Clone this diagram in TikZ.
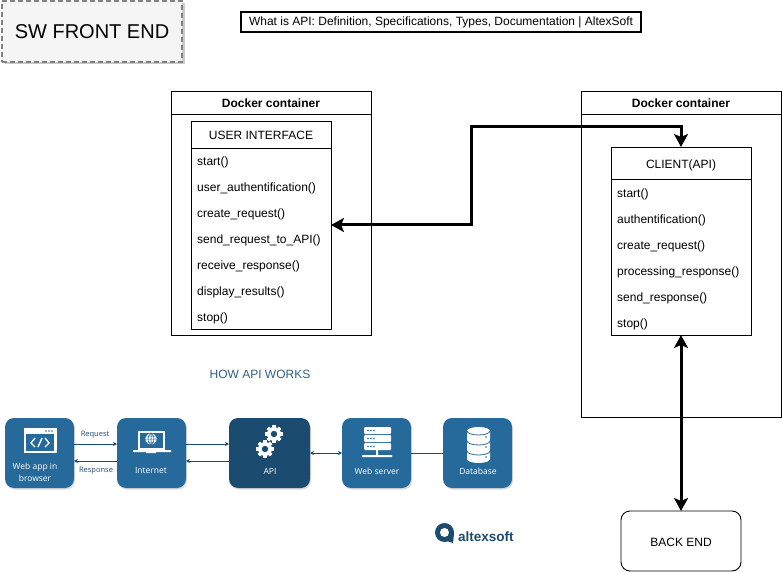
\documentclass[tikz,border=0pt]{standalone}
\usepackage{fontspec}
\setmainfont{Liberation Sans}
\newfontfamily\tilefont{Open Sans}
\usepackage{tikz}
\usetikzlibrary{arrows.meta,positioning,shadows}
\definecolor{tileblue}{HTML}{266A9B}
\definecolor{tiledark}{HTML}{1B4B6F}
\definecolor{linkblue}{HTML}{1C4A6E}
\definecolor{howblue}{HTML}{2F5F85}
\tikzset{
 box/.style={draw=black,line width=0.9pt,fill=white,outer sep=0pt,inner sep=0pt,text height=10.6pt,text depth=0pt},
 headbox/.style={box,font=\fontsize{12}{14}\selectfont},
 rowtext/.style={anchor=west,inner sep=0pt,yshift=-1pt,font=\fontsize{12}{14}\selectfont},
 tile/.style={fill=#1,rounded corners=9pt,minimum height=70pt,outer sep=0pt,inner sep=0pt,
  drop shadow={shadow xshift=1pt,shadow yshift=-1.5pt,opacity=0.3}},
 tilelabel/.style={text=white,align=center,inner sep=0pt,font=\tilefont\fontsize{8.5}{12}\selectfont},
 biglink/.style={line width=3pt,{Stealth[length=13pt,width=14pt,inset=3pt]}-{Stealth[length=13pt,width=14pt,inset=3pt]}},
 smalllink/.style={draw=linkblue,line width=0.8pt},
 smalltip/.style={-{Stealth[length=4pt,width=4pt]}},
 smalltext/.style={text=linkblue,inner sep=0pt,font=\tilefont\fontsize{7.5}{9}\selectfont},
 gearicon/.pic={
  \foreach \a in {0,45,...,315}{\fill[white,rotate=\a] (-1.7,-8.6) rectangle (1.7,8.6);}
  \fill[white] (0,0) circle (7pt);
  \fill[tiledark] (0,0) circle (3.2pt);
 }
}

\begin{document}
\begin{tikzpicture}[x=1pt,y=-1pt]
 \useasboundingbox (0,0) rectangle (782,572);

 \node[draw=black!50,dash pattern=on 5pt off 3pt,line width=1.5pt,fill=black!4,minimum width=180pt,minimum height=61pt,
   outer sep=0pt,inner sep=0pt,font=\fontsize{20}{24}\selectfont,
   drop shadow={shadow xshift=2.5pt,shadow yshift=-2.5pt,opacity=0.4}] (swfront) at (92,31.5) {SW FRONT END};
 \node[draw=black,line width=2pt,minimum width=400pt,minimum height=20pt,outer sep=0pt,inner sep=0pt,
   font=\fontsize{12}{14}\selectfont] (apilink) at (441,22)
   {What is API: Definition, Specifications, Types, Documentation | AltexSoft};

 % left container
 \node[box,minimum width=200pt,minimum height=244pt] (dockerleft) at (271,213) {};
 \node[box,minimum width=200pt,minimum height=23pt,below=0pt of dockerleft.north,
   font=\bfseries\fontsize{12}{14}\selectfont] (dockerlefthead) {Docker container};
 \node[box,minimum width=140pt,minimum height=208pt] (ui) at (261,225) {};
 \node[headbox,minimum width=140pt,minimum height=27pt,below=0pt of ui.north] (uihead) {USER INTERFACE};
 \foreach \y/\t [count=\n] in {161/start(),187/user\_authentification(),213/create\_request(),
   239/send\_request\_to\_API(),265/receive\_response(),291/display\_results(),317/stop()}
  {\node[rowtext] (uirow\n) at (197,\y) {\t};}

 % right container
 \node[box,minimum width=200pt,minimum height=326pt] (dockerright) at (681,254) {};
 \node[box,minimum width=200pt,minimum height=23pt,below=0pt of dockerright.north,
   font=\bfseries\fontsize{12}{14}\selectfont] (dockerrighthead) {Docker container};
 \node[box,minimum width=140pt,minimum height=188pt] (client) at (681,241) {};
 \node[headbox,minimum width=140pt,minimum height=32pt,below=0pt of client.north] (clienthead) {CLIENT(API)};
 \foreach \y/\t [count=\n] in {193/start(),219/authentification(),245/create\_request(),
   271/processing\_response(),297/send\_response(),323/stop()}
  {\node[rowtext] (clientrow\n) at (617,\y) {\t};}

 \node[box,rounded corners=9pt,minimum width=120pt,minimum height=60pt,font=\fontsize{12}{14}\selectfont]
   (backend) at (681,541) {BACK END};

 \coordinate (bend) at (471,127);
 \draw[biglink] (ui.east) -| (bend) -| (client.north);
 \draw[biglink] (client.south) -- (backend.north);

 \node[text=howblue,inner sep=0pt,font=\fontsize{12}{14}\selectfont] (howapi) at (260,374) {HOW API WORKS};

 % api flow
 \node[tile=tileblue,minimum width=69pt] (webapp) at (39.5,453) {};
 \node[tile=tileblue,minimum width=69pt] (internet) at (151.5,453) {};
 \node[tile=tiledark,minimum width=81pt] (api) at (269.5,453) {};
 \node[tile=tileblue,minimum width=69pt] (webserver) at (376.5,453) {};
 \node[tile=tileblue,minimum width=69pt] (database) at (477.5,453) {};

 \draw[smalllink,smalltip] ([yshift=9pt]webapp.east) -- ([yshift=9pt]internet.west);
 \draw[smalllink,smalltip] ([yshift=-8pt]internet.west) -- ([yshift=-8pt]webapp.east);
 \draw[smalllink,smalltip] ([yshift=9pt]internet.east) -- ([yshift=9pt]api.west);
 \draw[smalllink,smalltip] ([yshift=-8pt]api.west) -- ([yshift=-8pt]internet.east);
 \draw[smalllink,{Stealth[length=4pt,width=4pt]}-{Stealth[length=4pt,width=4pt]}] (api.east) -- (webserver.west);
 \draw[smalllink] (webserver.east) -- (database.west);

 \node[smalltext] (requesttext) at (95,435) {Request};
 \node[smalltext] (responsetext) at (96,471) {Response};

 \node[tilelabel] (webapptext) at (35,472) {Web app in\\browser};
 \node[tilelabel] (internettext) at (151,471) {Internet};
 \node[tilelabel] (apitext) at (270,471) {API};
 \node[tilelabel] (webservertext) at (377,471) {Web server};
 \node[tilelabel] (databasetext) at (478,471) {Database};

 % browser icon
 \fill[white] (24,428) rectangle (57,453);
 \fill[tileblue] (26,434) rectangle (54,451);
 \foreach \x in {46,49,52}{\fill[tileblue] (\x,431) circle (0.9pt);}
 \draw[white,line width=1.4pt] (35,438) -- (31,443) -- (35,447);
 \draw[white,line width=1.4pt] (45,438) -- (49,443) -- (45,447);
 \draw[white,line width=1.4pt] (42,438) -- (38,447);

 % laptop icon
 \fill[white] (138,431) rectangle (165,450);
 \fill[tileblue] (140,433) rectangle (163,448);
 \fill[white] (133,450) rectangle (171,452) (146,452) rectangle (156,453);
 \fill[white] (151,439) circle (6pt);
 \draw[tileblue,line width=0.5pt] (151,439) circle (6pt) (145,439) -- (157,439)
   (146,436) -- (156,436) (146,442) -- (156,442) (151,433) -- (151,445)
   (151,433) .. controls (147,436) and (147,442) .. (151,445)
   (151,433) .. controls (155,436) and (155,442) .. (151,445);

 % gears
 \pic at (274,434) {gearicon};
 \pic at (265,449) {gearicon};

 % server icon
 \foreach \y in {427,435,443}{
  \fill[white,rounded corners=1pt] (364,\y) rectangle (391,\y+7);
  \foreach \x in {368,371,374}{\fill[tileblue] (\x,\y+3.5) circle (0.8pt);}
 }
 \fill[white] (376,450) rectangle (378,455) (362,455) rectangle (392,457);

 % database icon
 \foreach \y in {446,436,426}{
  \fill[white] (467,\y+5) -- (467,\y+13) arc[start angle=180,end angle=360,x radius=11.5pt,y radius=4pt]
    -- (490,\y+5) arc[start angle=0,end angle=180,x radius=11.5pt,y radius=4pt] -- cycle;
  \draw[tileblue,line width=0.8pt] (467,\y+5) arc[start angle=180,end angle=360,x radius=11.5pt,y radius=4pt];
  \fill[tileblue] (486,\y+11) circle (0.8pt);
 }

 % logo
 \fill[tiledark] (444.5,532.5) circle (9.5pt);
 \fill[tiledark] (447,534) -- (454,534) -- (453,543) -- (447,541) -- cycle;
 \fill[white] (444.5,532.5) circle (4.5pt);
 \node[anchor=west,text=tiledark,inner sep=0pt,font=\bfseries\fontsize{13.5}{16}\selectfont] (logotext) at (458,537) {altexsoft};
\end{tikzpicture}
\end{document}
